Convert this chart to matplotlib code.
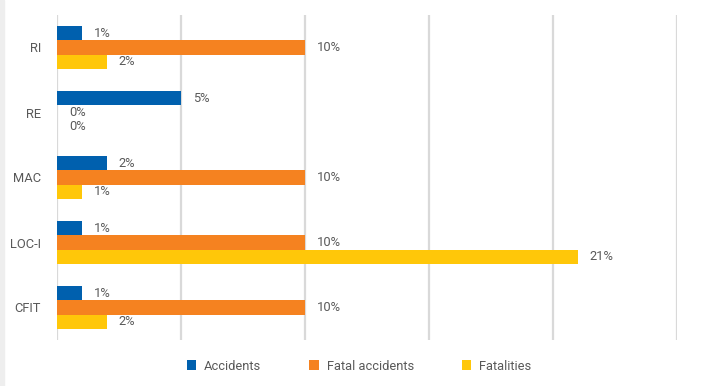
import matplotlib
matplotlib.use("Agg")
import matplotlib.pyplot as plt
import numpy as np
from matplotlib import font_manager

categories = ["RI", "RE", "MAC", "LOC-I", "CFIT"]
series_names = ["Accidents", "Fatal accidents", "Fatalities"]
accidents = [1, 5, 2, 1, 1]
fatal_accidents = [10, 0, 10, 10, 10]
fatalities = [2, 0, 1, 21, 2]
colors = ["#0060AE", "#F58220", "#FFC709"]

names = {f.name for f in font_manager.fontManager.ttflist}
fam = "Liberation Sans Narrow" if "Liberation Sans Narrow" in names else "Roboto"
plt.rcParams["font.family"] = [fam, "DejaVu Sans"]
txt = "#595959"

fig = plt.figure(figsize=(7.14, 3.86), dpi=100)
ax = fig.add_axes([57/714, 1-340/386, 620/714, 325/386])

y = np.arange(len(categories))
h = 0.217
data = [accidents, fatal_accidents, fatalities]
for i, (vals, c, nm) in enumerate(zip(data, colors, series_names)):
    pos = y + (i - 1) * h
    ax.barh(pos, vals, height=h, color=c, label=nm, zorder=3)
    for yy, v in zip(pos, vals):
        ax.annotate(f"{v}%", (v, yy), xytext=(8.5, 0), textcoords="offset points",
                    ha="left", va="center", fontsize=9.3, color=txt, zorder=4)

ax.set_xlim(0, 25)
ax.set_ylim(len(categories) - 0.5, -0.5)
ax.set_xticks(np.arange(0, 26, 5))
ax.set_xticklabels([])
ax.set_yticks(y)
ax.set_yticklabels(categories, fontsize=9.3, color=txt)
ax.tick_params(axis="both", length=0)
ax.tick_params(axis="y", pad=11.5)
ax.grid(axis="x", color="#D9D9D9", linewidth=1.6, zorder=0)
for s in ax.spines.values():
    s.set_visible(False)

handles, labels = ax.get_legend_handles_labels()
leg = fig.legend(handles, labels, loc="center", bbox_to_anchor=(359/714, 1-366/386),
                 ncol=3, frameon=False, fontsize=9.3, handlelength=0.75, handleheight=0.75,
                 handletextpad=0.6, columnspacing=3.7)
for t in leg.get_texts():
    t.set_color(txt)

fig.patches.append(plt.Rectangle((0, 0), 4/714, 1, transform=fig.transFigure,
                                 color="#EEEEEE", zorder=0))
fig.savefig("out.png", dpi=100)
